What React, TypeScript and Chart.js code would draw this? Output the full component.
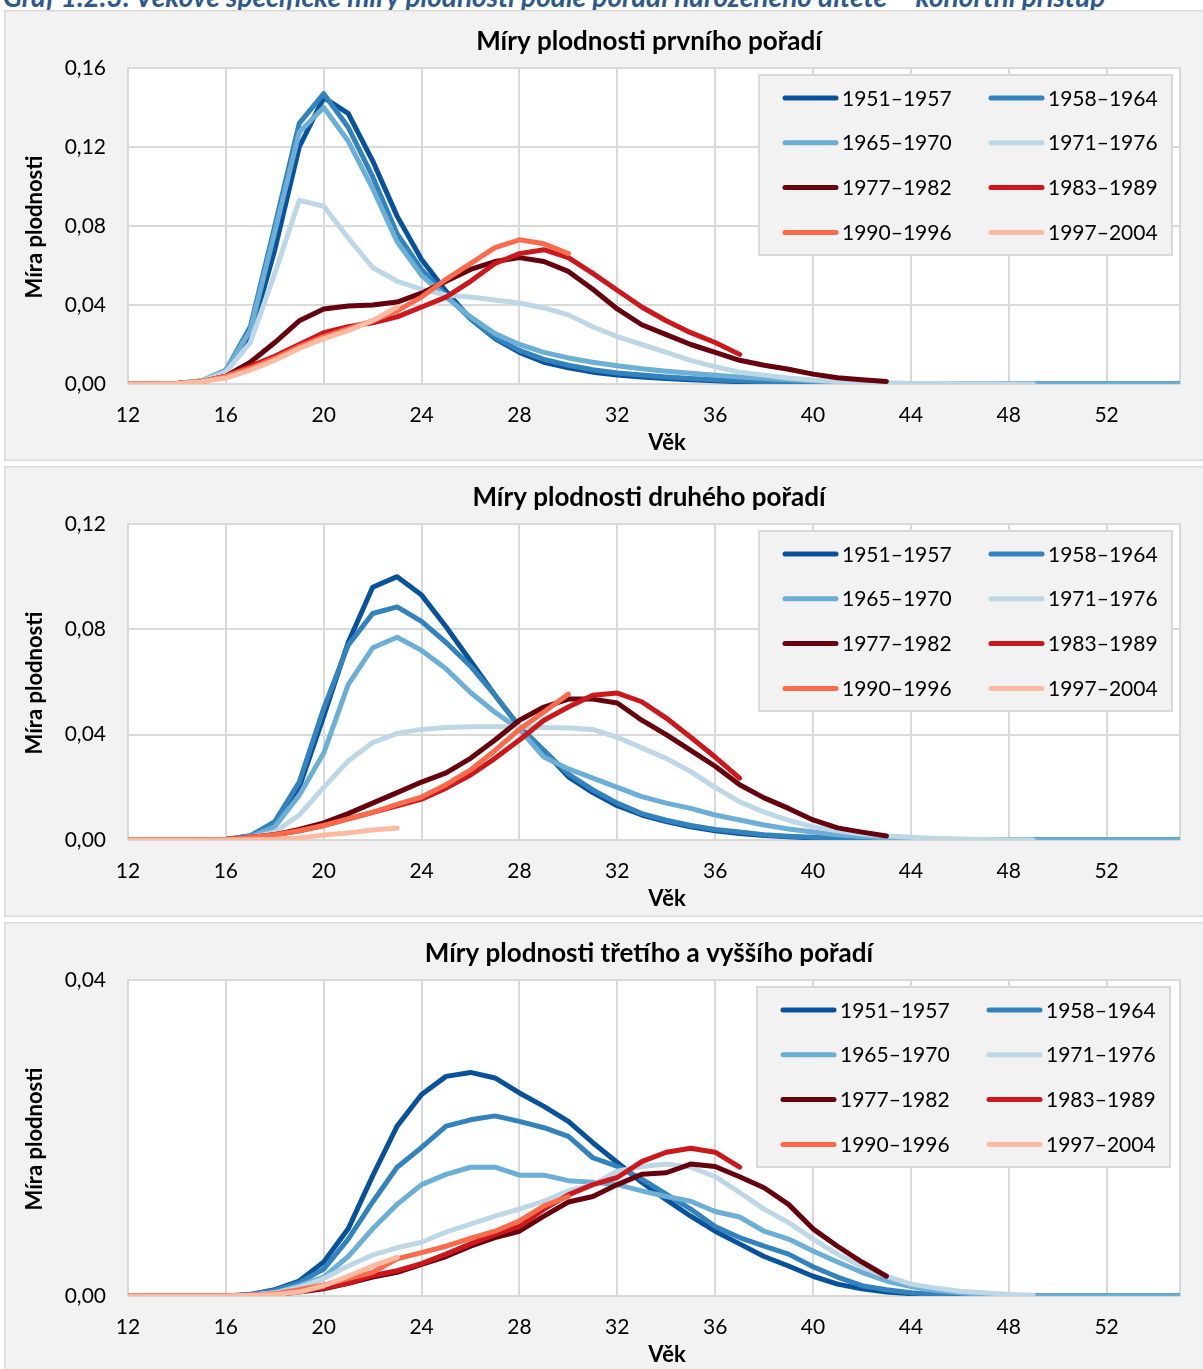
import React, { useEffect, useRef } from "react";
import { Chart, registerables } from "chart.js";

Chart.register(...registerables);
Chart.defaults.font.family = "Lato, 'Noto Sans', sans-serif";

// ---------------- data ----------------
const AGES = [
  12, 13, 14, 15, 16, 17, 18, 19, 20, 21, 22, 23, 24, 25, 26, 27, 28, 29, 30, 31, 32, 33,
  34, 35, 36, 37, 38, 39, 40, 41, 42, 43, 44, 45, 46, 47, 48, 49, 50, 51, 52, 53, 54, 55,
];
const X_TICKS = [12, 16, 20, 24, 28, 32, 36, 40, 44, 48, 52];
const Y_TICKS_FIRST = [0, 0.04, 0.08, 0.12, 0.16];
const Y_TICKS_SECOND = [0, 0.04, 0.08, 0.12];
const Y_TICKS_THIRD = [0, 0.04];

const SERIES_LABELS = [
  "1951–1957", "1958–1964", "1965–1970", "1971–1976",
  "1977–1982", "1983–1989", "1990–1996", "1997–2004",
];
const SERIES_COLORS = [
  "#08519c", "#3182bd", "#6baed6", "#bdd7e7",
  "#67000d", "#cb181d", "#fb6a4a", "#fcbba1",
];

const PANEL_TITLES = [
  "Míry plodnosti prvního pořadí",
  "Míry plodnosti druhého pořadí",
  "Míry plodnosti třetího a vyššího pořadí",
];
const PAGE_TITLE =
  "Graf 1.2.3: Věkově specifické míry plodnosti podle pořadí narozeného dítěte – kohortní přístup";
const Y_TITLE = "Míra plodnosti";
const X_TITLE = "Věk";

// first order
const FIRST_1951 = [0, 0, 0.0003, 0.0015, 0.006, 0.024, 0.068, 0.12, 0.145, 0.137, 0.113, 0.085, 0.063, 0.047, 0.033, 0.023, 0.016, 0.011, 0.0082, 0.006, 0.0046, 0.0036, 0.0028, 0.0021, 0.0016, 0.0012, 0.0009, 0.0006, 0.0004, 0.0003, 0.0002, 0.0001, 0, 0, 0, 0, 0, 0, 0, 0, 0, 0, 0, 0];
const FIRST_1958 = [0, 0, 0.0003, 0.0015, 0.007, 0.029, 0.08, 0.132, 0.147, 0.13, 0.105, 0.076, 0.058, 0.045, 0.033, 0.0235, 0.017, 0.0125, 0.0095, 0.0072, 0.0056, 0.0045, 0.0036, 0.0028, 0.0022, 0.0016, 0.0012, 0.0009, 0.0006, 0.0004, 0.0003, 0.0002, 0.0001, 0, 0, 0, 0, 0, 0, 0, 0, 0, 0, 0];
const FIRST_1965 = [0, 0, 0.0003, 0.0015, 0.007, 0.027, 0.077, 0.1275, 0.14, 0.123, 0.099, 0.072, 0.055, 0.044, 0.034, 0.0255, 0.02, 0.016, 0.0132, 0.011, 0.0092, 0.0077, 0.0065, 0.0054, 0.0044, 0.0036, 0.0028, 0.0021, 0.0015, 0.001, 0.0007, 0.0004, 0.0003, 0.0002, 0.0001, 0, 0, 0, 0, 0, 0, 0, 0, 0];
const FIRST_1971 = [0, 0, 0.0003, 0.0015, 0.006, 0.021, 0.056, 0.093, 0.09, 0.074, 0.059, 0.052, 0.048, 0.045, 0.044, 0.0425, 0.041, 0.0385, 0.035, 0.029, 0.024, 0.02, 0.016, 0.012, 0.0087, 0.006, 0.0045, 0.003, 0.002, 0.0013, 0.0008, 0.0005, 0.0003, 0.0002, 0.0001, 0.0001, 0, 0];
const FIRST_1977 = [0, 0, 0.0003, 0.0012, 0.004, 0.011, 0.021, 0.032, 0.038, 0.0395, 0.04, 0.0415, 0.046, 0.052, 0.058, 0.062, 0.064, 0.062, 0.057, 0.048, 0.038, 0.03, 0.025, 0.02, 0.016, 0.012, 0.0095, 0.0075, 0.005, 0.0032, 0.0022, 0.0013];
const FIRST_1983 = [0, 0, 0.0003, 0.0012, 0.004, 0.009, 0.014, 0.02, 0.026, 0.029, 0.031, 0.034, 0.039, 0.044, 0.052, 0.061, 0.066, 0.068, 0.064, 0.056, 0.0475, 0.039, 0.032, 0.026, 0.021, 0.015];
const FIRST_1990 = [0, 0, 0.0003, 0.0012, 0.004, 0.008, 0.013, 0.019, 0.024, 0.028, 0.032, 0.037, 0.044, 0.053, 0.061, 0.069, 0.073, 0.071, 0.066];
const FIRST_1997 = [0, 0, 0.0003, 0.0012, 0.003, 0.007, 0.012, 0.018, 0.023, 0.027, 0.032, 0.039];

// second order
const SECOND_1951 = [0, 0, 0, 0, 0.0002, 0.0015, 0.0065, 0.02, 0.047, 0.075, 0.096, 0.1, 0.093, 0.081, 0.068, 0.055, 0.043, 0.034, 0.024, 0.018, 0.013, 0.0095, 0.007, 0.005, 0.0035, 0.0025, 0.0017, 0.0012, 0.0008, 0.0005, 0.0003, 0.0002, 0.0001, 0, 0, 0, 0, 0, 0, 0, 0, 0, 0, 0];
const SECOND_1958 = [0, 0, 0, 0, 0.0002, 0.0016, 0.007, 0.022, 0.05, 0.074, 0.086, 0.0885, 0.083, 0.075, 0.066, 0.055, 0.043, 0.034, 0.025, 0.019, 0.014, 0.01, 0.0075, 0.0055, 0.004, 0.003, 0.002, 0.0014, 0.001, 0.0006, 0.0004, 0.0002, 0.0001, 0, 0, 0, 0, 0, 0, 0, 0, 0, 0, 0];
const SECOND_1965 = [0, 0, 0, 0, 0.0002, 0.0012, 0.005, 0.017, 0.033, 0.059, 0.073, 0.077, 0.072, 0.065, 0.056, 0.0485, 0.042, 0.0315, 0.027, 0.0235, 0.02, 0.0165, 0.014, 0.012, 0.0095, 0.0076, 0.0057, 0.0042, 0.003, 0.002, 0.0013, 0.0008, 0.0005, 0.0003, 0.0002, 0.0001, 0, 0, 0, 0, 0, 0, 0, 0];
const SECOND_1971 = [0, 0, 0, 0, 0.0001, 0.0008, 0.003, 0.0095, 0.02, 0.03, 0.037, 0.0405, 0.042, 0.0427, 0.043, 0.043, 0.043, 0.0427, 0.0425, 0.042, 0.039, 0.035, 0.031, 0.026, 0.02, 0.0145, 0.0106, 0.0075, 0.005, 0.0035, 0.0023, 0.0015, 0.001, 0.0006, 0.0004, 0.0002, 0.0001, 0];
const SECOND_1977 = [0, 0, 0, 0, 0.0002, 0.001, 0.002, 0.004, 0.0065, 0.01, 0.014, 0.018, 0.022, 0.0255, 0.031, 0.038, 0.0455, 0.0505, 0.0535, 0.0535, 0.052, 0.0455, 0.04, 0.034, 0.028, 0.021, 0.016, 0.012, 0.0076, 0.0046, 0.003, 0.0015];
const SECOND_1983 = [0, 0, 0, 0, 0.0002, 0.001, 0.002, 0.0035, 0.0055, 0.008, 0.0105, 0.013, 0.0155, 0.0197, 0.0247, 0.031, 0.038, 0.0455, 0.0505, 0.055, 0.0558, 0.0525, 0.0463, 0.039, 0.0315, 0.0235];
const SECOND_1990 = [0, 0, 0, 0, 0.0002, 0.001, 0.002, 0.0035, 0.0055, 0.008, 0.0105, 0.0135, 0.0163, 0.021, 0.0266, 0.034, 0.042, 0.0486, 0.0554];
const SECOND_1997 = [0, 0, 0, 0, 0, 0.0001, 0.0003, 0.0008, 0.0019, 0.0027, 0.0038, 0.0046];

// third and higher order
const THIRD_1951 = [0, 0, 0, 0, 0, 0.0002, 0.0008, 0.0019, 0.0043, 0.0085, 0.0152, 0.0215, 0.0255, 0.0278, 0.0283, 0.0276, 0.0257, 0.024, 0.0221, 0.0194, 0.0169, 0.0144, 0.0122, 0.0101, 0.0082, 0.0066, 0.005, 0.0038, 0.0025, 0.0015, 0.0009, 0.0005, 0.0003, 0.0001, 0, 0, 0, 0, 0, 0, 0, 0, 0, 0];
const THIRD_1958 = [0, 0, 0, 0, 0, 0.0002, 0.0007, 0.0017, 0.0034, 0.0072, 0.0119, 0.0163, 0.0188, 0.0215, 0.0223, 0.0228, 0.0221, 0.0213, 0.0202, 0.0175, 0.0164, 0.0148, 0.0129, 0.011, 0.0088, 0.0074, 0.0063, 0.0053, 0.0037, 0.0024, 0.0013, 0.0008, 0.0004, 0.0002, 0, 0, 0, 0, 0, 0, 0, 0, 0, 0];
const THIRD_1965 = [0, 0, 0, 0, 0, 0.0001, 0.0004, 0.0013, 0.0024, 0.005, 0.0085, 0.0116, 0.0141, 0.0154, 0.0163, 0.0163, 0.0153, 0.0153, 0.0146, 0.0144, 0.0141, 0.0133, 0.0126, 0.012, 0.0107, 0.01, 0.0082, 0.0072, 0.0057, 0.0043, 0.003, 0.0019, 0.0012, 0.0007, 0.0004, 0.0002, 0.0001, 0, 0, 0, 0, 0, 0, 0];
const THIRD_1971 = [0, 0, 0, 0, 0, 0.0001, 0.0004, 0.0011, 0.0022, 0.0038, 0.0052, 0.0061, 0.0068, 0.0081, 0.0091, 0.0101, 0.011, 0.012, 0.0133, 0.0141, 0.0158, 0.0164, 0.0167, 0.0163, 0.0151, 0.0131, 0.011, 0.0093, 0.0072, 0.0053, 0.0037, 0.0025, 0.0015, 0.001, 0.0006, 0.0004, 0.0002, 0.0001];
const THIRD_1977 = [0, 0, 0, 0, 0, 0.0001, 0.0002, 0.0005, 0.0009, 0.0016, 0.0024, 0.003, 0.004, 0.005, 0.0063, 0.0074, 0.0082, 0.0101, 0.0119, 0.0126, 0.0141, 0.0154, 0.0156, 0.0167, 0.0164, 0.0151, 0.0137, 0.0116, 0.0085, 0.0063, 0.0043, 0.0025];
const THIRD_1983 = [0, 0, 0, 0, 0, 0.0001, 0.0002, 0.0006, 0.001, 0.0016, 0.0026, 0.0032, 0.0041, 0.0053, 0.0066, 0.0078, 0.0088, 0.011, 0.0128, 0.0141, 0.015, 0.017, 0.0182, 0.0187, 0.0182, 0.0163];
const THIRD_1990 = [0, 0, 0, 0, 0, 0.0001, 0.0003, 0.0008, 0.0014, 0.0022, 0.003, 0.0047, 0.0055, 0.0063, 0.0073, 0.0082, 0.0095, 0.0114, 0.0126];
const THIRD_1997 = [0, 0, 0, 0, 0, 0.0001, 0.0002, 0.0005, 0.0013, 0.0025, 0.0038, 0.0049];

const FIRST_SERIES = [FIRST_1951, FIRST_1958, FIRST_1965, FIRST_1971, FIRST_1977, FIRST_1983, FIRST_1990, FIRST_1997];
const SECOND_SERIES = [SECOND_1951, SECOND_1958, SECOND_1965, SECOND_1971, SECOND_1977, SECOND_1983, SECOND_1990, SECOND_1997];
const THIRD_SERIES = [THIRD_1951, THIRD_1958, THIRD_1965, THIRD_1971, THIRD_1977, THIRD_1983, THIRD_1990, THIRD_1997];

// ---------------- layout constants ----------------
const CANVAS_W = 1199;
const CANVAS_H = 451;
const GRID = "#d9d9d9";
const FONT = "Lato, 'Noto Sans', sans-serif";

const fmt = (v: number) => v.toFixed(2).replace(".", ",");

const decorPlugin = {
  id: "decor",
  beforeDraw(chart: any) {
    const { ctx, chartArea: a, width, height } = chart;
    ctx.save();
    ctx.fillStyle = "#f2f2f2";
    ctx.fillRect(0, 0, width, height);
    ctx.strokeStyle = GRID;
    ctx.lineWidth = 1.5;
    ctx.strokeRect(0.75, 0.75, width + 20, height - 1.5);
    ctx.fillStyle = "#ffffff";
    ctx.fillRect(a.left, a.top, a.right - a.left, a.bottom - a.top);
    ctx.restore();
  },
  beforeDatasetsDraw(chart: any) {
    const { ctx, chartArea: a } = chart;
    ctx.save();
    ctx.strokeStyle = GRID;
    ctx.lineWidth = 2;
    ctx.beginPath();
    ctx.moveTo(a.right, a.top - 1);
    ctx.lineTo(a.right, a.bottom + 1);
    ctx.stroke();
    ctx.restore();
  },
  afterDraw(chart: any, _args: any, opts: any) {
    const { ctx, chartArea: a } = chart;
    ctx.save();
    // panel title
    ctx.fillStyle = "#000";
    ctx.font = `bold 26px ${FONT}`;
    ctx.textAlign = "center";
    ctx.textBaseline = "middle";
    ctx.fillText(opts.title, 645, 32);
    // x title
    ctx.font = `bold 22px ${FONT}`;
    ctx.fillText(X_TITLE, 663, 433);
    // y title
    ctx.save();
    ctx.translate(31, (a.top + a.bottom) / 2 + 1);
    ctx.rotate(-Math.PI / 2);
    ctx.font = `bold 22px ${FONT}`;
    ctx.fillText(Y_TITLE, 0, 0);
    ctx.restore();

    // legend
    const lx = 755 + (opts.legendDx || 0);
    const ly = 65;
    ctx.fillStyle = "#f2f2f2";
    ctx.fillRect(lx, ly, 413, 180);
    ctx.strokeStyle = GRID;
    ctx.lineWidth = 2;
    ctx.strokeRect(lx, ly, 413, 180);
    ctx.textAlign = "left";
    ctx.textBaseline = "alphabetic";
    ctx.font = `21px ${FONT}`;
    chart.data.datasets.forEach((ds: any, i: number) => {
      const col = i % 2;
      const row = Math.floor(i / 2);
      const x0 = lx + 24 + col * 206;
      const y = ly + 23 + row * 44.8;
      ctx.strokeStyle = ds.borderColor;
      ctx.lineWidth = 5;
      ctx.lineCap = "round";
      ctx.beginPath();
      ctx.moveTo(x0 + 2, y);
      ctx.lineTo(x0 + 53, y);
      ctx.stroke();
      ctx.fillStyle = "#000";
      ctx.fillText(ds.label, x0 + 59, y + 7.5);
    });
    ctx.restore();
  },
};

type PanelProps = {
  index: number;
  series: number[][];
  yTicks: number[];
  legendDx: number;
};

function Panel({ index, series, yTicks, legendDx }: PanelProps) {
  const ref = useRef<HTMLCanvasElement | null>(null);
  useEffect(() => {
    const canvas = ref.current;
    if (!canvas) return;
    const yMax = yTicks[yTicks.length - 1];
    const chart = new Chart(canvas, {
      type: "line",
      data: {
        datasets: series.map((vals, i) => ({
          label: SERIES_LABELS[i],
          data: vals.map((v, k) => ({ x: AGES[k], y: v })),
          borderColor: SERIES_COLORS[i],
          backgroundColor: SERIES_COLORS[i],
          borderWidth: 5,
          pointRadius: 0,
          pointHoverRadius: 0,
          borderCapStyle: "round",
          borderJoinStyle: "round",
          tension: 0,
          fill: false,
          order: SERIES_LABELS.length - i,
        })),
      },
      options: {
        animation: false,
        responsive: false,
        devicePixelRatio: 1,
        events: [],
        layout: { padding: { left: 0, top: 58, right: 23, bottom: 0 } },
        plugins: {
          legend: { display: false },
          title: { display: false },
          tooltip: { enabled: false },
          decor: { title: PANEL_TITLES[index], legendDx },
        } as any,
        scales: {
          x: {
            type: "linear",
            min: AGES[0],
            max: AGES[AGES.length - 1],
            afterBuildTicks: (s: any) => {
              s.ticks = X_TICKS.map((v) => ({ value: v }));
            },
            afterFit: (s: any) => {
              s.height = 77;
            },
            grid: { color: GRID, lineWidth: 2, drawTicks: false },
            border: { color: GRID, width: 2 },
            ticks: {
              padding: 19,
              color: "#000",
              font: { family: FONT, size: 21 },
              autoSkip: false,
              maxRotation: 0,
              callback: (v: any) => String(v),
            },
          },
          y: {
            type: "linear",
            min: 0,
            max: yMax,
            afterBuildTicks: (s: any) => {
              s.ticks = yTicks.map((v) => ({ value: v }));
            },
            afterFit: (s: any) => {
              s.width = 124;
            },
            grid: { color: GRID, lineWidth: 2, drawTicks: false },
            border: { color: GRID, width: 2 },
            ticks: {
              padding: 22,
              color: "#000",
              font: { family: FONT, size: 21 },
              callback: (v: any) => fmt(Number(v)),
            },
          },
        },
      },
      plugins: [decorPlugin as any],
    });
    return () => chart.destroy();
  }, [index, series, yTicks, legendDx]);

  return (
    <canvas
      ref={ref}
      width={CANVAS_W}
      height={CANVAS_H}
      style={{
        position: "absolute",
        left: 4,
        top: 10 + index * 456,
        width: CANVAS_W,
        height: CANVAS_H,
        display: "block",
      }}
    />
  );
}

export default function App() {
  return (
    <div
      style={{
        position: "absolute",
        left: 0,
        top: 0,
        width: 1203,
        height: 1369,
        overflow: "hidden",
        background: "#ffffff",
      }}
    >
      <div
        style={{
          position: "absolute",
          left: 3,
          top: -22,
          whiteSpace: "nowrap",
          fontFamily: FONT,
          fontStyle: "italic",
          fontWeight: "bold",
          fontSize: 28,
          lineHeight: "36px",
          color: "#2e5a8e",
        }}
      >
        {PAGE_TITLE}
      </div>
      <Panel index={0} series={FIRST_SERIES} yTicks={Y_TICKS_FIRST} legendDx={0} />
      <Panel index={1} series={SECOND_SERIES} yTicks={Y_TICKS_SECOND} legendDx={0} />
      <Panel index={2} series={THIRD_SERIES} yTicks={Y_TICKS_THIRD} legendDx={-2} />
    </div>
  );
}
